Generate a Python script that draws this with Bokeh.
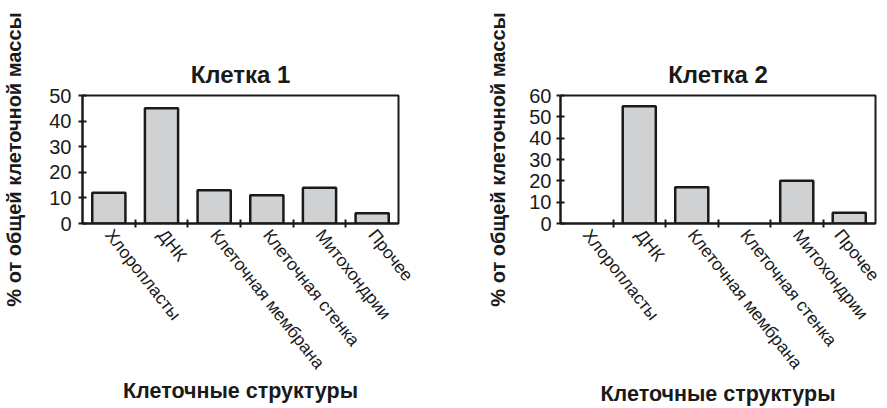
from bokeh.plotting import figure
from bokeh.layouts import row
from bokeh.models import Range1d, FixedTicker
from bokeh.embed import file_html
from bokeh.resources import INLINE

categories = ["Хлоропласты", "ДНК", "Клеточная мембрана",
              "Клеточная стенка", "Митохондрии", "Прочее"]
cell1_values = [12, 45, 13, 11, 14, 4]
cell2_values = [0, 55, 17, 0, 20, 5]
titles = ["Клетка 1", "Клетка 2"]
y_max = [50, 60]
y_ticks1 = [0, 10, 20, 30, 40, 50]
y_ticks2 = [0, 10, 20, 30, 40, 50, 60]
x_label = "Клеточные структуры"
y_label = "% от общей клеточной массы"

FONT = "'Liberation Sans', sans-serif"


def make(values, title, ymax, yticks, frame_w, left_border, right_border,
         ylab_standoff, ytick_standoff, xlab_standoff):
    p = figure(frame_width=frame_w, frame_height=128, output_backend="svg",
               toolbar_location=None,
               x_range=Range1d(-0.5, len(categories) - 0.5), y_range=Range1d(0, ymax),
               min_border_left=left_border, min_border_right=right_border, min_border_top=95,
               min_border_bottom=183)
    idx = [i for i, v in enumerate(values) if v > 0]
    p.vbar(x=idx, top=[values[i] for i in idx], width=0.63, bottom=0,
           fill_color="#d0d1d3", line_color="#1a1a1a", line_width=2.5)
    p.xgrid.visible = False
    p.ygrid.visible = False
    p.outline_line_color = "#1a1a1a"
    p.outline_line_width = 2
    p.background_fill_color = "white"

    p.title.text = title
    p.title.align = "center"
    p.title.text_font = FONT
    p.title.text_font_size = "24px"
    p.title.text_font_style = "bold"
    p.title.text_color = "#1a1a1a"
    p.title.standoff = 16

    xa = p.xaxis[0]
    xa.ticker = FixedTicker(ticks=list(range(len(categories))),
                            minor_ticks=[i + 0.5 for i in range(len(categories) - 1)])
    xa.major_label_overrides = {i: c for i, c in enumerate(categories)}
    xa.major_tick_in = 0
    xa.major_tick_out = 0
    xa.minor_tick_in = 4
    xa.minor_tick_out = 4
    xa.minor_tick_line_width = 2
    xa.minor_tick_line_color = "#1a1a1a"
    xa.axis_line_width = 2
    xa.axis_line_color = "#1a1a1a"
    xa.major_label_orientation = -0.9
    xa.major_label_standoff = 4
    xa.major_label_text_font = FONT
    xa.major_label_text_font_size = "17.5px"
    xa.major_label_text_color = "#1a1a1a"
    xa.axis_label = x_label
    xa.axis_label_text_font = FONT
    xa.axis_label_text_font_size = "21.5px"
    xa.axis_label_text_font_style = "bold"
    xa.axis_label_text_color = "#1a1a1a"
    xa.axis_label_standoff = xlab_standoff

    ya = p.yaxis[0]
    ya.ticker = FixedTicker(ticks=yticks)
    ya.major_tick_in = 4
    ya.major_tick_out = 4
    ya.major_tick_line_width = 2
    ya.major_tick_line_color = "#1a1a1a"
    ya.minor_tick_line_color = None
    ya.axis_line_width = 2
    ya.axis_line_color = "#1a1a1a"
    ya.major_label_standoff = ytick_standoff
    ya.major_label_text_font = FONT
    ya.major_label_text_font_size = "20px"
    ya.major_label_text_color = "#1a1a1a"
    ya.axis_label = y_label
    ya.axis_label_text_font = FONT
    ya.axis_label_text_font_size = "20px"
    ya.axis_label_text_font_style = "bold"
    ya.axis_label_text_color = "#1a1a1a"
    ya.axis_label_standoff = ylab_standoff
    return p


p1 = make(cell1_values, titles[0], y_max[0], y_ticks1, 316, 78, 86, 21, 7, -3)
p2 = make(cell2_values, titles[1], y_max[1], y_ticks2, 315, 76, 8, 17, 5, 0)
layout = row(p1, p2, spacing=0)

open("out.html", "w").write(file_html(layout, INLINE))
